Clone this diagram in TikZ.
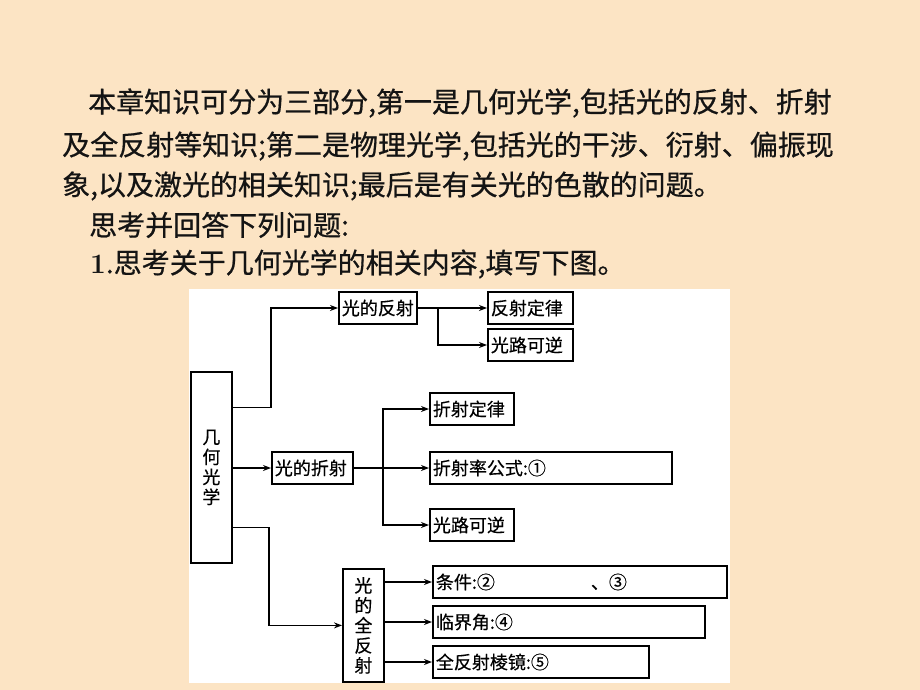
\documentclass[tikz,border=0pt]{standalone}
\usepackage{fontspec}
\newfontfamily\cjk{Noto Sans CJK SC}[FakeBold=0.6]
\newfontfamily\cjkd{Noto Sans CJK SC}[FakeBold=0.4]
\usetikzlibrary{arrows.meta,calc}
\definecolor{bgpeach}{RGB}{252,228,196}
\definecolor{inkc}{RGB}{20,20,20}
\begin{document}
\begin{tikzpicture}[x=1pt,y=-1pt,
  para/.style={anchor=west, inner sep=0pt, text=inkc, font=\cjk\fontsize{28}{34}\selectfont},
  box/.style={draw, line width=1.8pt, anchor=west, inner xsep=3pt, inner ysep=0pt,
    minimum height=32pt, align=left, font=\cjkd\fontsize{18}{20}\selectfont},
  vbox/.style={draw, line width=1.8pt, anchor=north west, inner sep=0pt,
    align=center, font=\cjkd\fontsize{18}{20}\selectfont},
  arr/.style={line width=1.8pt, -{Stealth[length=8pt,width=6pt]}}]
\useasboundingbox (0,0) rectangle (920,690);
\fill[bgpeach] (0,0) rectangle (920,690);
\fill[white] (189,289) rectangle (730,683);

% paragraph
\node[para] (p1) at (88,103) {本章知识可分为三部分,第一是几何光学,包括光的反射、折射};
\node[para] (p2) at (62,146) {及全反射等知识;第二是物理光学,包括光的干涉、衍射、偏振现};
\node[para] (p3) at (62,186) {象,以及激光的相关知识;最后是有关光的色散的问题。};
\node[para] (p4) at (89,225) {思考并回答下列问题:};
\node[para] (p5) at (90,264) {{\rmfamily\bfseries 1}.思考关于几何光学的相关内容,填写下图。};

% boxes
\node[vbox, minimum width=41pt, minimum height=191pt, text width=41pt] (geo) at (190,371) {几\\何\\光\\学};
\node[box, text width=72pt] (refl) at (338,308) {光的反射};
\node[box, text width=79pt] (rlaw) at (487,308) {反射定律};
\node[box, text width=79pt] (rrev) at (487,345) {光路可逆};
\node[box, text width=75pt] (refr) at (271,468) {光的折射};
\node[box, text width=78pt] (flaw) at (429,409) {折射定律};
\node[box, text width=236pt] (fidx) at (429,468) {折射率公式:①};
\node[box, text width=78pt] (frev) at (429,525) {光路可逆};
\node[vbox, minimum width=41pt, minimum height=113pt, text width=41pt] (tir) at (342,568) {光\\的\\全\\反\\射};
\node[box, text width=288pt] (cond) at (432,582) {条件:②\hspace{96pt}、③};
\node[box, text width=266pt] (crit) at (432,622) {临界角:④};
\node[box, text width=210pt] (prism) at (432,662) {全反射棱镜:⑤};

% connectors
\draw[arr] ([yshift=60pt]geo.east) -- ++(38,0) |- (refl.west);
\draw[arr] (refl.east) -- (rlaw.west);
\draw[arr] ($(refl.east)+(20,0)$) |- (rrev.west);
\draw[arr] (geo.east |- refr.west) -- (refr.west);
\draw[arr] (refr.east) -- (fidx.west);
\draw[arr] ($(refr.east)+(29,0)$) |- (flaw.west);
\draw[arr] ($(refr.east)+(29,0)$) |- (frev.west);
\draw[arr] ([yshift=-60pt]geo.east) -- ++(36,0) |- (tir.west);
\draw[arr] (tir.east |- cond.west) -- (cond.west);
\draw[arr] (tir.east |- crit.west) -- (crit.west);
\draw[arr] (tir.east |- prism.west) -- (prism.west);
\end{tikzpicture}
\end{document}
